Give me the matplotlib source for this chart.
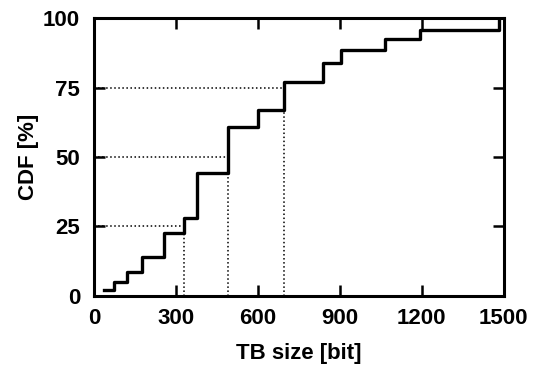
import matplotlib
matplotlib.use('Agg')
import matplotlib.pyplot as plt

# step edges of the CDF (TB size in bit) and CDF level after each edge (%)
tb_size = [36, 72, 121, 176, 258, 328, 377, 489, 600, 696, 840, 905, 1065, 1195, 1483]
cdf = [1.9, 5.1, 8.4, 13.9, 22.6, 28.2, 44.1, 60.7, 66.9, 76.9, 83.9, 88.7, 92.4, 95.7, 100]

# quartile markers (dotted guides)
q_levels = [25, 50, 75]
q_sizes = [328, 489, 696]

xticks = [0, 300, 600, 900, 1200, 1500]
yticks = [0, 25, 50, 75, 100]

plt.rcParams['font.family'] = ['Liberation Sans', 'DejaVu Sans']
plt.rcParams['font.weight'] = 'bold'

fig = plt.figure(figsize=(5.37, 3.69), dpi=100)
ax = fig.add_axes([0.175, 0.1985, 0.763, 0.752])

for q, s in zip(q_levels, q_sizes):
    ax.plot([0, s], [q, q], color='black', linestyle=':', linewidth=1.1)
    ax.plot([s, s], [0, q], color='black', linestyle=':', linewidth=1.1)

ax.step(tb_size, cdf, where='post', color='black', linewidth=2.4, zorder=3)

ax.set_xlim(0, 1500)
ax.set_ylim(0, 100)
ax.set_xticks(xticks)
ax.set_yticks(yticks)
ax.tick_params(direction='in', length=8, width=1.8, top=True, right=True,
               labelsize=16)
ax.tick_params(axis='x', pad=9)
ax.tick_params(axis='y', pad=10)
for lab in ax.get_xticklabels() + ax.get_yticklabels():
    lab.set_fontweight('bold')
for sp in ax.spines.values():
    sp.set_linewidth(2.2)

ax.set_xlabel('TB size [bit]', fontsize=16, fontweight='bold', labelpad=10)
ax.set_ylabel('CDF [%]', fontsize=16, fontweight='bold', labelpad=3)

fig.savefig('out.png', dpi=100)
